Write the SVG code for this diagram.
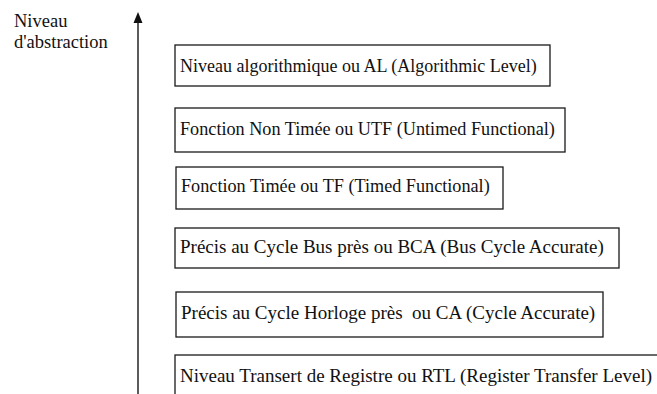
<svg xmlns="http://www.w3.org/2000/svg" width="657" height="394" viewBox="0 0 657 394">
<rect width="657" height="394" fill="#fff"/>
<g id="axis-label">
<text x="14" y="27" font-family="Liberation Serif" font-size="18.5" fill="#111">Niveau</text>
<text x="14" y="48" font-family="Liberation Serif" font-size="18.5" fill="#111">d'abstraction</text>
</g>
<g id="connectors">
<line x1="138" y1="394" x2="138" y2="22" stroke="#333" stroke-width="1.6"/>
<polygon points="138,12 133.5,23 142.5,23" fill="#111"/>
</g>
<g id="n1"><rect x="175" y="45" width="375" height="41" fill="#fff" stroke="#1a1a1a" stroke-width="1.3"/><text x="180" y="72" font-family="Liberation Serif" font-size="18" fill="#111">Niveau algorithmique ou AL (Algorithmic Level)</text></g>
<g id="n2"><rect x="175" y="108" width="390" height="44" fill="#fff" stroke="#1a1a1a" stroke-width="1.3"/><text x="180" y="135" font-family="Liberation Serif" font-size="18.2" fill="#111">Fonction Non Timée ou UTF (Untimed Functional)</text></g>
<g id="n3"><rect x="176" y="167" width="327" height="42" fill="#fff" stroke="#1a1a1a" stroke-width="1.3"/><text x="181" y="192" font-family="Liberation Serif" font-size="18.2" fill="#111">Fonction Timée ou TF (Timed Functional)</text></g>
<g id="n4"><rect x="175" y="228" width="444" height="40" fill="#fff" stroke="#1a1a1a" stroke-width="1.3"/><text x="180" y="253" font-family="Liberation Serif" font-size="19" fill="#111">Précis au Cycle Bus près ou BCA (Bus Cycle Accurate)</text></g>
<g id="n5"><rect x="176" y="292" width="427" height="45" fill="#fff" stroke="#1a1a1a" stroke-width="1.3"/><text x="181" y="319" font-family="Liberation Serif" font-size="19" fill="#111" xml:space="preserve">Précis au Cycle Horloge près  ou CA (Cycle Accurate)</text></g>
<g id="n6"><rect x="175" y="355" width="490" height="50" fill="#fff" stroke="#1a1a1a" stroke-width="1.3"/><text x="180" y="382" font-family="Liberation Serif" font-size="19" fill="#111">Niveau Transert de Registre ou RTL (Register Transfer Level)</text></g>
</svg>
